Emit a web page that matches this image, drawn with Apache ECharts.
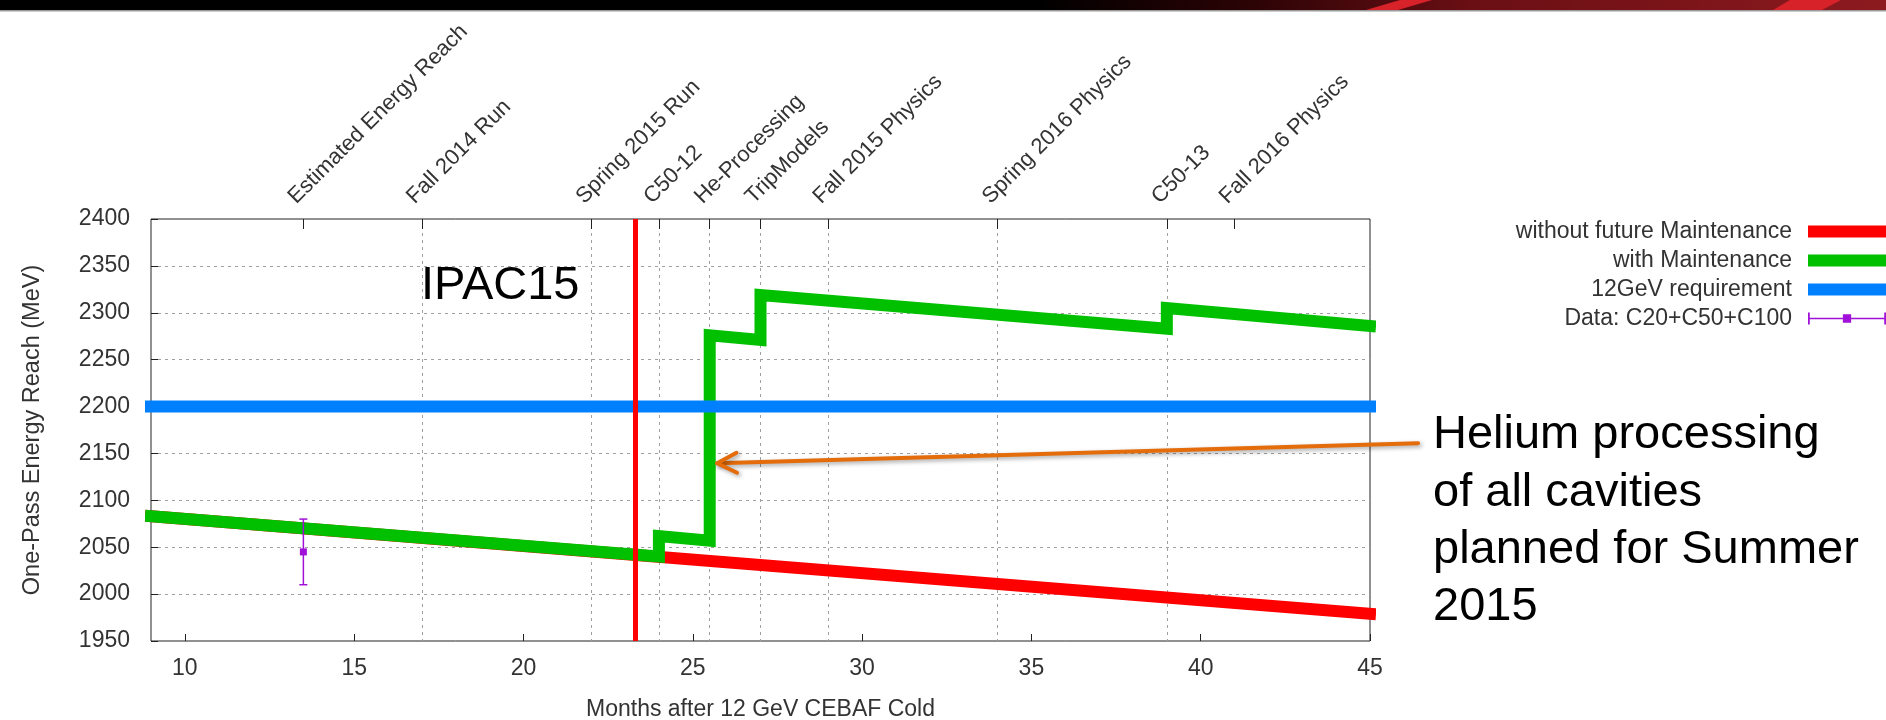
<!DOCTYPE html>
<html>
<head>
<meta charset="utf-8">
<script src="https://cdn.jsdelivr.net/npm/echarts@6/dist/echarts.min.js"></script>
<style>
  html, body { margin: 0; padding: 0; background: #fff; }
  #chart { width: 1886px; height: 720px; }
</style>
</head>
<body>
<div id="chart"></div>
<script>
// One-pass energy reach (MeV) against months after 12 GeV CEBAF cold
const noMaintMonths = [9, 45];
const noMaintEnergy = [2083, 1979];

const maintMonths = [9, 24, 24, 25.5, 25.5, 27, 27, 39, 39, 45];
const maintEnergy = [2083, 2040, 2062, 2057, 2276, 2271, 2319, 2283, 2305, 2286];

const reqMonths = [9, 45];
const reqEnergy = [2200, 2200];

const dataMonths = [13.5];
const dataEnergy = [2045];
const dataLow = [2010];
const dataHigh = [2080];

// Schedule events along the top axis
const eventMonths = [13.5, 17, 22, 24, 25.5, 27, 29, 34, 39, 41];
const eventLabels = ['Estimated Energy Reach', 'Fall 2014 Run', 'Spring 2015 Run', 'C50-12',
  'He-Processing', 'TripModels', 'Fall 2015 Physics', 'Spring 2016 Physics', 'C50-13', 'Fall 2016 Physics'];

const monthTicks = [10, 15, 20, 25, 30, 35, 40, 45];

// Annotation anchors (month, MeV)
const ipacMonth = 23.3;
const arrowFrom = [46.42, 2161];
const arrowTo = [25.72, 2139.5];

const FONT = '"Liberation Sans", Arial, sans-serif';
const TXT = '#333';
const GRID = '#a0a0a0';
const RED = '#ff0000', GREEN = '#00c000', BLUE = '#0080ff', PURPLE = '#a010d8', ORANGE = '#e46c0a';

const zip = (xs, ys) => xs.map((x, i) => [x, ys[i]]);

const chart = echarts.init(document.getElementById('chart'), null, { renderer: 'canvas' });

function thickLine(name, data, color, z) {
  return {
    type: 'line', name, data, z,
    color, showSymbol: false, symbol: 'none', clip: false, animation: false,
    lineStyle: { width: 12, color, cap: 'square', join: 'miter' },
    emphasis: { disabled: true }
  };
}

const dataIcon = 'path://M0,0h1.5v10h-1.5zM0,4.3h66v1.4h-66zM64.5,0h1.5v10h-1.5zM29.5,1.5h7v7h-7z';

const option = {
  backgroundColor: '#fff',
  animation: false,
  textStyle: { fontFamily: FONT },
  grid: {
    left: 151, right: 516, top: 219, bottom: 79,
    outerBoundsMode: 'none', containLabel: false,
    show: true, borderColor: '#222', borderWidth: 1, backgroundColor: 'transparent'
  },
  legend: {
    orient: 'vertical', align: 'right', right: 0, top: 220, padding: 0,
    itemGap: 6, itemWidth: 78, itemHeight: 12, selectedMode: false,
    itemStyle: { borderWidth: 0 },
    textStyle: { fontSize: 23, color: TXT, fontFamily: FONT, lineHeight: 23, padding: [0, 11, 0, 0] },
    data: [
      { name: 'without future Maintenance', icon: 'rect' },
      { name: 'with Maintenance', icon: 'rect' },
      { name: '12GeV requirement', icon: 'rect' },
      { name: 'Data: C20+C50+C100', icon: dataIcon }
    ]
  },
  xAxis: [
    {
      type: 'value', position: 'bottom', min: 9, max: 45,
      axisLine: { show: false },
      axisTick: { show: true, inside: true, length: 7, customValues: monthTicks, lineStyle: { color: '#222' } },
      axisLabel: { customValues: monthTicks, margin: 16, fontSize: 23, color: TXT, fontFamily: FONT, formatter: v => String(v) },
      splitLine: { show: false },
      name: 'Months after 12 GeV CEBAF Cold', nameLocation: 'middle', nameGap: 57,
      nameTextStyle: { fontSize: 23, color: TXT, fontFamily: FONT }
    },
    {
      type: 'value', position: 'top', min: 9, max: 45,
      axisLine: { show: false },
      axisTick: { show: true, inside: true, length: 10, customValues: eventMonths, lineStyle: { color: '#222' } },
      axisLabel: {
        customValues: eventMonths, rotate: -45, margin: 30, padding: [0, 0, 0, -16],
        fontSize: 22, color: TXT, fontFamily: FONT,
        formatter: v => {
          const i = eventMonths.findIndex(m => Math.abs(m - v) < 1e-6);
          return i >= 0 ? eventLabels[i] : '';
        }
      },
      splitLine: { show: true, showMinLine: false, showMaxLine: false, lineStyle: { color: GRID, width: 1, type: [3, 4] } }
    }
  ],
  yAxis: {
    type: 'value', min: 1950, max: 2400, interval: 50,
    axisLine: { show: false },
    axisTick: { show: true, inside: true, length: 7, lineStyle: { color: '#222' } },
    axisLabel: { margin: 21, fontSize: 23, color: TXT, fontFamily: FONT, formatter: v => String(v) },
    splitLine: { show: true, showMinLine: false, showMaxLine: false, lineStyle: { color: GRID, width: 1, type: [3, 4] } },
    name: 'One-Pass Energy Reach (MeV)', nameLocation: 'middle', nameGap: 106,
    nameTextStyle: { fontSize: 23.5, color: TXT, fontFamily: FONT }
  },
  series: [
    thickLine('without future Maintenance', zip(noMaintMonths, noMaintEnergy), RED, 2),
    thickLine('with Maintenance', zip(maintMonths, maintEnergy), GREEN, 3),
    Object.assign(thickLine('12GeV requirement', zip(reqMonths, reqEnergy), BLUE, 4), {
      markLine: {
        silent: true, symbol: ['none', 'none'], z: 6, animation: false,
        label: { show: false },
        lineStyle: { color: RED, width: 5, type: 'solid' },
        emphasis: { disabled: true },
        data: [{ xAxis: ipacMonth }]
      }
    }),
    {
      type: 'custom', name: 'Data: C20+C50+C100', z: 5, clip: false,
      itemStyle: { color: PURPLE },
      encode: { x: 0, y: [1, 2, 3] },
      data: dataMonths.map((m, i) => [m, dataEnergy[i], dataLow[i], dataHigh[i]]),
      renderItem: (params, api) => {
        const x = api.value(0);
        const p = api.coord([x, api.value(1)]);
        const lo = api.coord([x, api.value(2)]);
        const hi = api.coord([x, api.value(3)]);
        const st = { stroke: PURPLE, lineWidth: 1.5 };
        return {
          type: 'group', children: [
            { type: 'line', shape: { x1: lo[0], y1: lo[1], x2: hi[0], y2: hi[1] }, style: st },
            { type: 'line', shape: { x1: lo[0] - 4, y1: lo[1], x2: lo[0] + 4, y2: lo[1] }, style: st },
            { type: 'line', shape: { x1: hi[0] - 4, y1: hi[1], x2: hi[0] + 4, y2: hi[1] }, style: st },
            { type: 'rect', shape: { x: p[0] - 3.5, y: p[1] - 3.5, width: 7, height: 7 }, style: { fill: PURPLE } }
          ]
        };
      }
    },
    {
      type: 'custom', name: 'helium-arrow', z: 8, clip: false, silent: true,
      encode: { x: [0, 2], y: [1, 3] },
      data: [[arrowFrom[0], arrowFrom[1], arrowTo[0], arrowTo[1]]],
      renderItem: (params, api) => {
        const a = api.coord([api.value(0), api.value(1)]);
        const b = api.coord([api.value(2), api.value(3)]);
        const dx = a[0] - b[0], dy = a[1] - b[1];
        const len = Math.hypot(dx, dy);
        const ux = dx / len, uy = dy / len;
        const ang = 27 * Math.PI / 180, arm = 22;
        const rot = s => [b[0] + arm * (ux * Math.cos(s * ang) - uy * Math.sin(s * ang)),
                          b[1] + arm * (ux * Math.sin(s * ang) + uy * Math.cos(s * ang))];
        const st = {
          stroke: ORANGE, lineWidth: 4, lineCap: 'round', lineJoin: 'round', fill: null,
          shadowBlur: 4, shadowColor: 'rgba(0,0,0,0.35)', shadowOffsetX: 2, shadowOffsetY: 2
        };
        return {
          type: 'group', children: [
            { type: 'line', shape: { x1: a[0], y1: a[1], x2: b[0], y2: b[1] }, style: st },
            { type: 'polyline', shape: { points: [rot(1), b, rot(-1)] }, style: st }
          ]
        };
      }
    }
  ],
  graphic: [
    {
      type: 'rect', z: 100, shape: { x: 0, y: 0, width: 1886, height: 10 },
      style: {
        fill: {
          type: 'linear', x: 0, y: 0, x2: 1, y2: 0,
          colorStops: [
            { offset: 0, color: '#000' }, { offset: 0.55, color: '#000' },
            { offset: 0.66, color: '#2a0305' }, { offset: 0.78, color: '#6a0f14' },
            { offset: 1, color: '#8c1a1f' }
          ]
        }
      }
    },
    { type: 'polygon', z: 101, shape: { points: [[1366, 10], [1398, 10], [1432, 0], [1400, 0]] }, style: { fill: '#d8222a' } },
    { type: 'polygon', z: 101, shape: { points: [[1773, 10], [1822, 10], [1841, 0], [1790, 0]] }, style: { fill: '#d8222a' } },
    { type: 'rect', z: 100, shape: { x: 0, y: 10, width: 1886, height: 1.5 }, style: { fill: '#9a9a9a' } },
    {
      type: 'text', z: 50, x: 421, y: 285.7,
      style: { text: 'IPAC15', fontSize: 47, fontFamily: FONT, fill: '#000', align: 'left', verticalAlign: 'middle' }
    },
    {
      type: 'text', z: 50, x: 1433, y: 406.8,
      style: {
        text: 'Helium processing\nof all cavities\nplanned for Summer\n2015',
        fontSize: 47, lineHeight: 57.3, fontFamily: FONT, fill: '#000', align: 'left', verticalAlign: 'top'
      }
    }
  ]
};

chart.setOption(option);
</script>
</body>
</html>
